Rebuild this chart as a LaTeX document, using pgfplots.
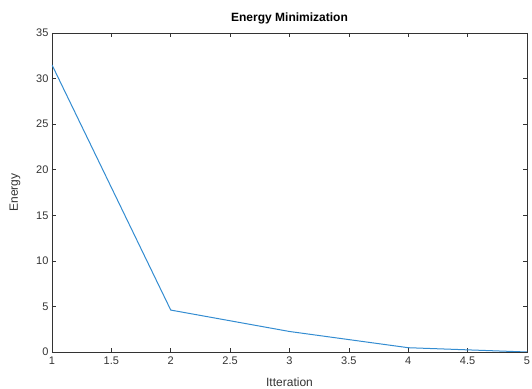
\documentclass[border=0pt]{standalone}
\usepackage{pgfplots}
\pgfplotsset{compat=1.18}
\usetikzlibrary{calc}
\usepackage{fontspec}
\setmainfont{Liberation Sans}
\definecolor{mblue}{rgb}{0.2,0.55,0.82}
\definecolor{axgray}{rgb}{0.2,0.2,0.2}
\begin{document}
\begin{tikzpicture}
\begin{axis}[
  name=ax,
  scale only axis,
  width=475pt, height=319pt,
  xmin=1, xmax=5, ymin=0, ymax=35,
  xtick={1,1.5,...,5},
  ytick={0,5,...,35},
  tick align=inside,
  major tick length=4pt,
  axis line style={axgray, line width=0.7pt},
  tick style={axgray, line width=0.7pt},
  ticklabel style={font=\fontsize{11}{13}\selectfont, text=axgray},
  xticklabel style={/pgf/number format/fixed, yshift=-1pt},
  /pgf/number format/assume math mode=true,
  title={\textbf{Energy Minimization}},
  title style={font=\fontsize{12}{14}\selectfont, at={(0.5,1)}, anchor=south, yshift=-1pt},
  xlabel={Itteration},
  ylabel={Energy},
  xlabel style={font=\fontsize{12}{14}\selectfont, text=axgray, at={(0.5,0)}, anchor=north, yshift=-22pt},
  ylabel style={font=\fontsize{12}{14}\selectfont, text=axgray, at={(0,0.5)}, anchor=south, rotate=0, xshift=0pt, yshift=28pt},
]
\addplot[mblue, line width=1pt] coordinates {
  (1,31.5) (2,4.6) (3,2.25) (4,0.47) (5,0.0)
};
\end{axis}
\pgfresetboundingbox
\path ($(ax.south west)+(-52pt,-37pt)$) rectangle ($(ax.north east)+(5pt,33pt)$);
\end{tikzpicture}
\end{document}
